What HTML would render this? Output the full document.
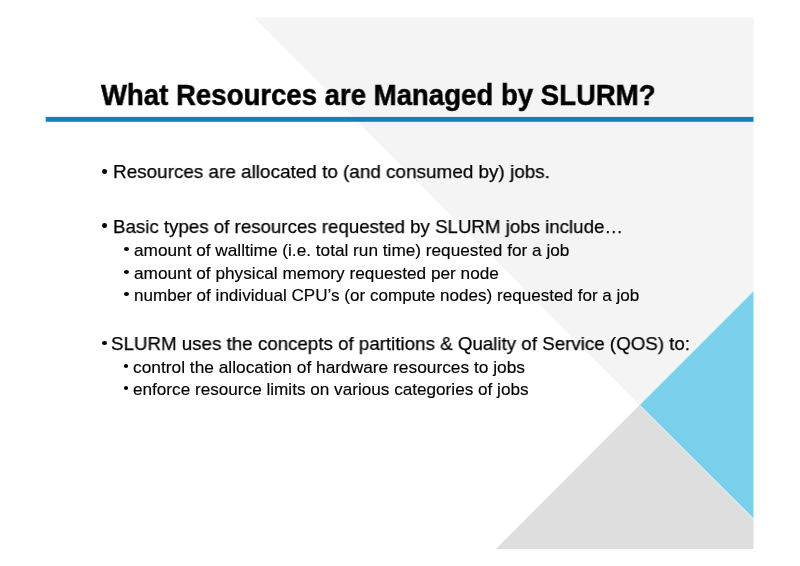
<!DOCTYPE html>
<html><head><meta charset="utf-8">
<style>
html,body{margin:0;padding:0;background:#fff;}
body{width:800px;height:566px;position:relative;overflow:hidden;font-family:"Liberation Sans",sans-serif;color:#000;}
svg{position:absolute;left:0;top:0;}
.t{position:absolute;white-space:nowrap;line-height:1;transform-origin:0 0;will-change:transform;}
.d{position:absolute;border-radius:50%;background:#000;}
</style></head><body>
<svg width="800" height="566" viewBox="0 0 800 566">
<polygon points="254,17.5 753.5,17.5 753.5,291 639.5,405" fill="#f4f4f4"/>
<polygon points="753.5,291 639.5,405 753.5,518.8" fill="#7acfeb"/>
<polygon points="639.5,405 753.5,518.8 753.5,549 496,549" fill="#dedede"/>
<polyline points="753.5,291 639.5,405 753.5,518.8" fill="none" stroke="#e4f5fb" stroke-width="0.9"/>
<rect x="45.7" y="116.9" width="707.8" height="4.9" fill="#0c82c5"/>
</svg>
<div class="t" style="left:101.10px;top:80.02px;font-size:29.50px;transform:scaleX(0.9345);font-weight:bold;-webkit-text-stroke:0.50px currentColor;">What Resources are Managed by SLURM?</div>
<div class="t" style="left:112.99px;top:162.46px;font-size:19.00px;transform:scaleX(0.9945);-webkit-text-stroke:0.25px currentColor;">Resources are allocated to (and consumed by) jobs.</div>
<div class="d" style="left:102.25px;top:169.00px;width:5.00px;height:4.75px"></div>
<div class="t" style="left:113.02px;top:216.66px;font-size:19.00px;transform:scaleX(0.9837);-webkit-text-stroke:0.25px currentColor;">Basic types of resources requested by SLURM jobs include…</div>
<div class="d" style="left:102.25px;top:223.00px;width:5.00px;height:4.75px"></div>
<div class="t" style="left:133.97px;top:242.38px;font-size:16.20px;transform:scaleX(1.0635);-webkit-text-stroke:0.15px currentColor;">amount of walltime (i.e. total run time) requested for a job</div>
<div class="d" style="left:123.50px;top:247.25px;width:5.00px;height:4.00px"></div>
<div class="t" style="left:133.97px;top:264.98px;font-size:16.20px;transform:scaleX(1.0645);-webkit-text-stroke:0.15px currentColor;">amount of physical memory requested per node</div>
<div class="d" style="left:123.50px;top:269.85px;width:5.00px;height:4.00px"></div>
<div class="t" style="left:133.91px;top:287.08px;font-size:16.20px;transform:scaleX(1.0544);-webkit-text-stroke:0.15px currentColor;">number of individual CPU’s (or compute nodes) requested for a job</div>
<div class="d" style="left:123.50px;top:291.95px;width:5.00px;height:4.00px"></div>
<div class="t" style="left:111.36px;top:333.86px;font-size:19.00px;transform:scaleX(0.9862);-webkit-text-stroke:0.25px currentColor;">SLURM uses the concepts of partitions &amp; Quality of Service (QOS) to:</div>
<div class="d" style="left:102.30px;top:340.90px;width:5.00px;height:4.50px"></div>
<div class="t" style="left:133.14px;top:359.28px;font-size:16.20px;transform:scaleX(1.0704);-webkit-text-stroke:0.15px currentColor;">control the allocation of hardware resources to jobs</div>
<div class="d" style="left:123.60px;top:364.15px;width:4.80px;height:4.00px"></div>
<div class="t" style="left:133.16px;top:380.88px;font-size:16.20px;transform:scaleX(1.0593);-webkit-text-stroke:0.15px currentColor;">enforce resource limits on various categories of jobs</div>
<div class="d" style="left:123.60px;top:385.75px;width:4.80px;height:4.00px"></div>
</body></html>
